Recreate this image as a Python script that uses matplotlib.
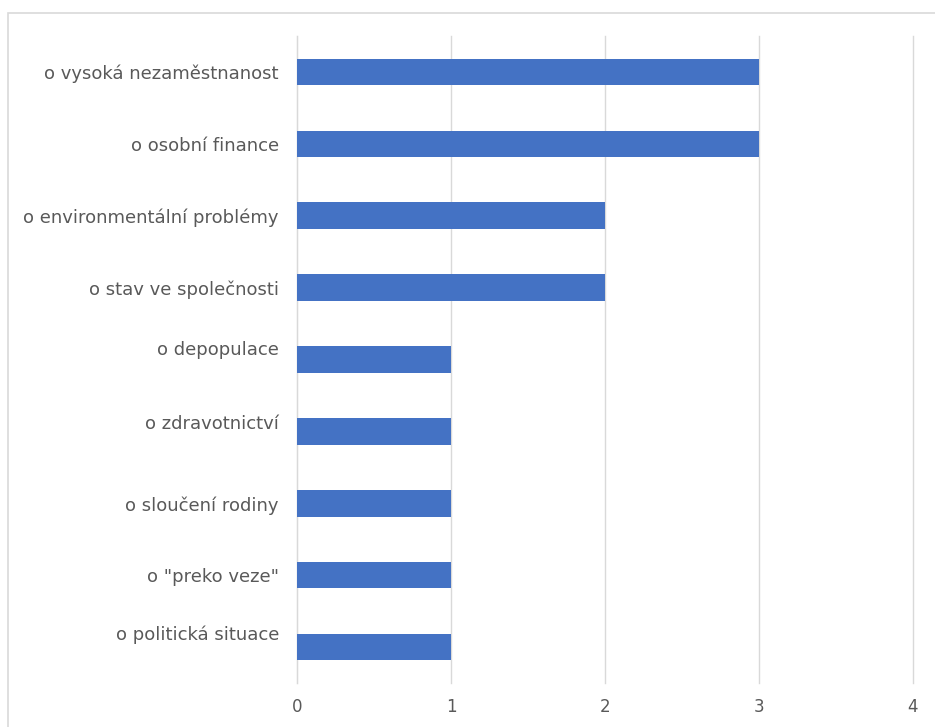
import matplotlib
matplotlib.use('Agg')
import matplotlib.pyplot as plt
import matplotlib.transforms as mtransforms
from matplotlib.patches import Rectangle

# Reasons, listed bottom to top as they are plotted
reasons = [
    'o politická situace',
    'o "preko veze"',
    'o sloučení rodiny',
    'o zdravotnictví',
    'o depopulace',
    'o stav ve společnosti',
    'o environmentální problémy',
    'o osobní finance',
    'o vysoká nezaměstnanost',
]
counts = [1, 1, 1, 1, 1, 2, 2, 3, 3]
xticks = [0, 1, 2, 3, 4]

W, H = 935, 727
fig = plt.figure(figsize=(W / 100, H / 100), dpi=100)
ax = fig.add_axes([297 / W, 1 - 683 / H, (913 - 297) / W, (683 - 36) / H])

# outer chart frame
fig.patches.append(Rectangle((8 / W, -0.01), 1.0, 1 - 13 / H + 0.01,
                             transform=fig.transFigure, fill=False,
                             edgecolor='#d9d9d9', linewidth=1.2))

ypos = list(range(len(reasons)))
ax.barh(ypos, counts, height=0.37, color='#4472C4', zorder=3)

ax.set_xlim(0, 4)
ax.set_ylim(-0.5, len(reasons) - 0.5)
ax.set_xticks(xticks)
ax.set_xticklabels([str(t) for t in xticks], color='#595959', fontsize=12)
ax.set_yticks(ypos)
ax.set_yticklabels(reasons, color='#595959', fontsize=13)
ax.tick_params(axis='both', length=0)
ax.tick_params(axis='x', pad=11)
ax.tick_params(axis='y', pad=13)

# some category labels sit a little above their bars
lift = [10, 0, 0, 7, 8, 0, 0, 0, 0]
for lab, dy in zip(ax.get_yticklabels(), lift):
    if dy:
        lab.set_transform(lab.get_transform() +
                          mtransforms.ScaledTranslation(0, dy / 72, fig.dpi_scale_trans))

ax.grid(axis='x', color='#d9d9d9', linewidth=1, zorder=0)
for gl in ax.get_xgridlines():
    gl.set_clip_on(False)
for side in ['top', 'right', 'bottom']:
    ax.spines[side].set_visible(False)
ax.spines['left'].set_color('#d9d9d9')

fig.savefig('out.png', dpi=100)
